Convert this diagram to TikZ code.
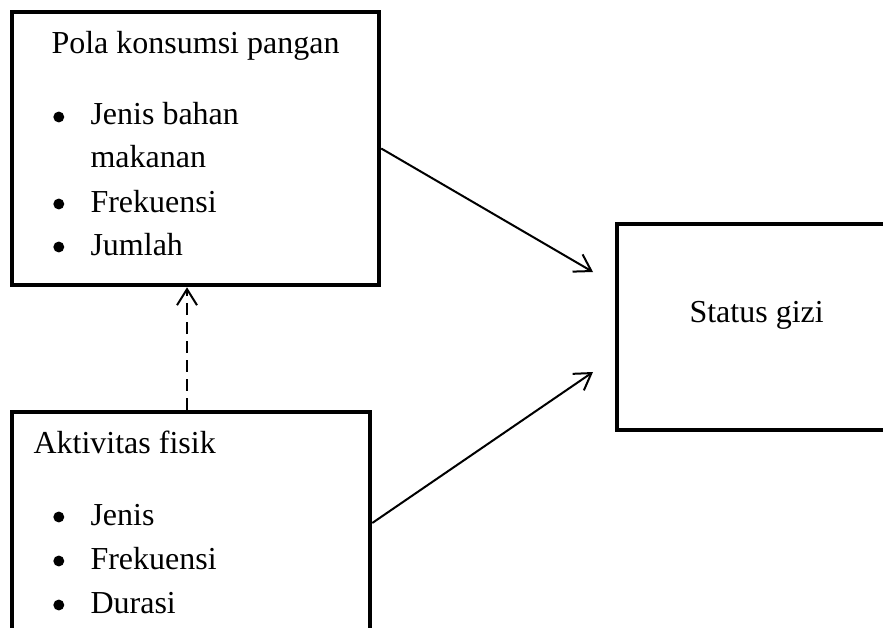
\documentclass[tikz,border=0pt]{standalone}
\usepackage{fontspec}
\setmainfont{Liberation Serif}
\usepackage{tikz}
\usetikzlibrary{
  positioning,
  calc,
  arrows.meta
}

\begin{document}
\begin{tikzpicture}[x=0.375pt,y=-0.375pt,
    font=\fontsize{12}{14}\selectfont,
    box/.style={draw,line width=1.7pt,inner sep=0pt,rectangle},
    txt/.style={anchor=base west,inner sep=0pt},
    link/.style={line width=0.75pt,-{Straight Barb[length=6pt,width=7.5pt,line width=0.75pt]}}]
  \useasboundingbox (0,0) rectangle (883,628);
  \clip (0,0) rectangle (883,628);
  % 枠
  \node[box,minimum width=137.6pt,minimum height=102.4pt] (pola) at (195.5,148.5) {};
  \node[box,minimum width=134.25pt,minimum height=83.25pt] (aktif) at (191,523) {};
  \node[box,minimum width=102.4pt,minimum height=77.25pt] (status) at (753.5,327) {};
  % 文字
  \node[txt] (tpola) at (51,53) {Pola konsumsi pangan};
  \node[txt] (p1) at (90,125) {Jenis bahan};
  \node[txt] (p1b) at (90,167) {makanan};
  \node[txt] (p2) at (90,212) {Frekuensi};
  \node[txt] (p3) at (90,255) {Jumlah};
  \node[txt] (taktif) at (33,453) {Aktivitas fisik};
  \node[txt] (a1) at (90,525) {Jenis};
  \node[txt] (a2) at (90,569) {Frekuensi};
  \node[txt] (a3) at (90,613) {Durasi};
  \node[txt] (tstatus) at (689,322) {Status gizi};
  % 黒丸
  \foreach \y in {125,212,255,525,569,613}
    \fill (58.8,\y-8) circle (2.05pt);
  % 矢印の先
  \coordinate (in1) at (593,272);
  \coordinate (in2) at (593,372);
  % 矢印
  \draw[link] (pola.east) -- (in1);
  \draw[link] (aktif.east) -- (in2);
  \draw[link,dash pattern=on 4.5pt off 2.6pt]
    ([xshift=-1.5pt]aktif.north) -- ([xshift=-1.5pt]aktif.north |- pola.south);
\end{tikzpicture}
\end{document}
